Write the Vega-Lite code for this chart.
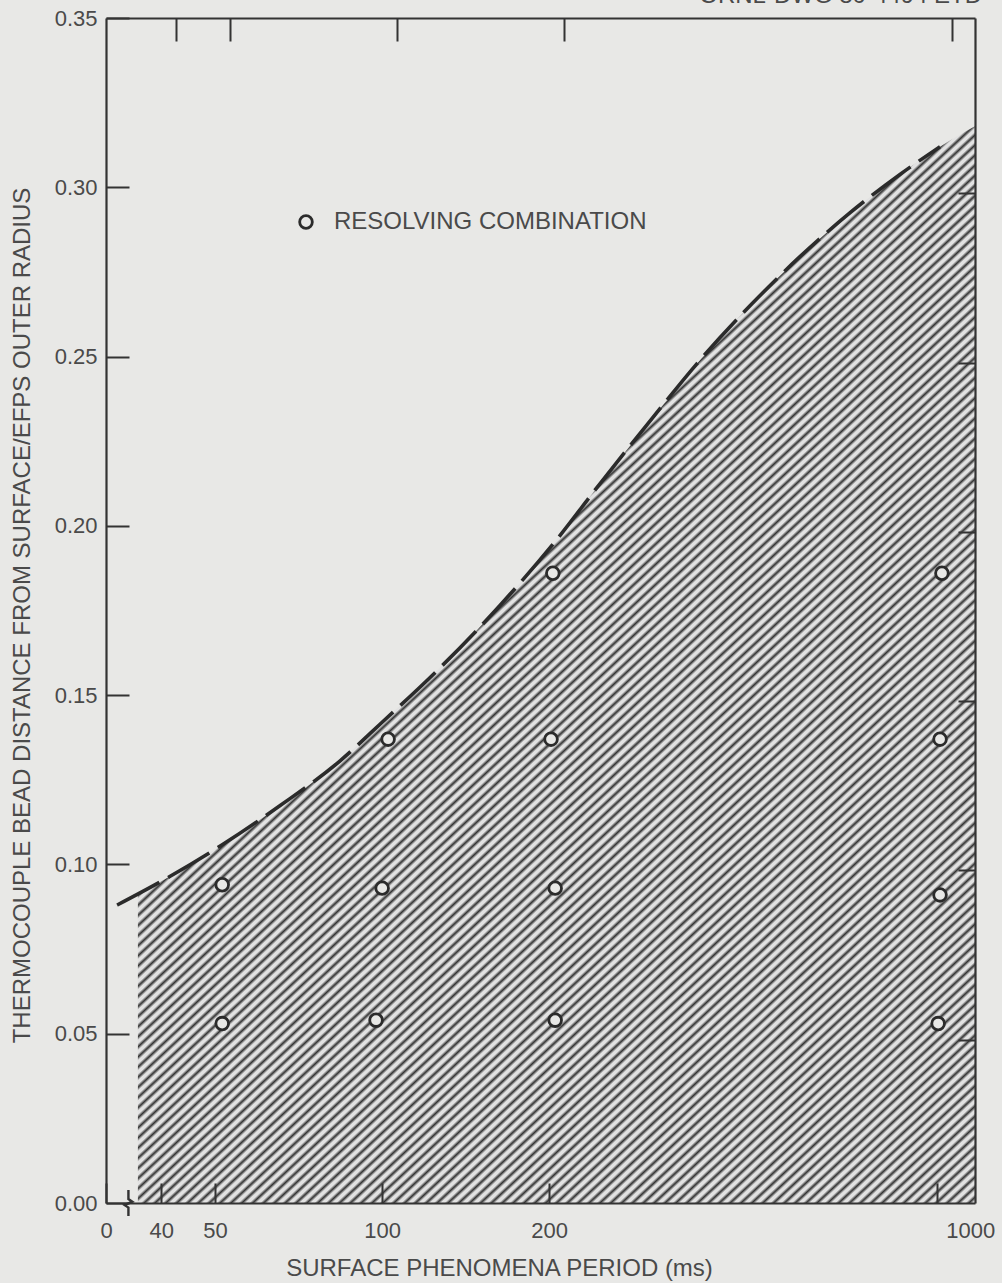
{
  "$schema": "https://vega.github.io/schema/vega-lite/v6.json",
  "width": 869,
  "height": 1185,
  "autosize": {"type": "none"},
  "padding": {"left": 106, "top": 18, "right": 27, "bottom": 80},
  "background": "#e8e8e6",
  "config": {"view": {"stroke": null}, "font": "Liberation Sans"},
  "title": {
    "text": "ORNL-DWG 80-4494 ETD",
    "orient": "top",
    "anchor": "end",
    "frame": "group",
    "offset": 0,
    "dy": 20,
    "baseline": "alphabetic",
    "dx": 7,
    "font": "Liberation Sans",
    "fontSize": 24,
    "fontWeight": "normal",
    "color": "#4a4a4a"
  },
  "datasets": {
    "region": [
      {"period": 36.3, "ratio": 0.0913},
      {"period": 41.5, "ratio": 0.0965},
      {"period": 51.5, "ratio": 0.1058},
      {"period": 65.5, "ratio": 0.1174},
      {"period": 84, "ratio": 0.1306},
      {"period": 100, "ratio": 0.142},
      {"period": 127, "ratio": 0.158},
      {"period": 163, "ratio": 0.1765},
      {"period": 203, "ratio": 0.1945},
      {"period": 247, "ratio": 0.2125},
      {"period": 304, "ratio": 0.231},
      {"period": 374, "ratio": 0.249},
      {"period": 460, "ratio": 0.265},
      {"period": 566, "ratio": 0.2795},
      {"period": 697, "ratio": 0.2925},
      {"period": 857, "ratio": 0.3038},
      {"period": 1012, "ratio": 0.312},
      {"period": 1170, "ratio": 0.318}
    ],
    "boundary": [
      {"period": 33.3, "ratio": 0.088},
      {"period": 41.5, "ratio": 0.0965},
      {"period": 51.5, "ratio": 0.1058},
      {"period": 65.5, "ratio": 0.1174},
      {"period": 84, "ratio": 0.1306},
      {"period": 100, "ratio": 0.142},
      {"period": 127, "ratio": 0.158},
      {"period": 163, "ratio": 0.1765},
      {"period": 203, "ratio": 0.1945},
      {"period": 247, "ratio": 0.2125},
      {"period": 304, "ratio": 0.231},
      {"period": 374, "ratio": 0.249},
      {"period": 460, "ratio": 0.265},
      {"period": 566, "ratio": 0.2795},
      {"period": 697, "ratio": 0.2925},
      {"period": 857, "ratio": 0.3038},
      {"period": 1012, "ratio": 0.312}
    ],
    "combinations": [
      {"period": 51.5, "ratio": 0.094, "kind": "RESOLVING COMBINATION"},
      {"period": 51.5, "ratio": 0.053, "kind": "RESOLVING COMBINATION"},
      {"period": 102.5, "ratio": 0.137, "kind": "RESOLVING COMBINATION"},
      {"period": 100, "ratio": 0.093, "kind": "RESOLVING COMBINATION"},
      {"period": 97.5, "ratio": 0.054, "kind": "RESOLVING COMBINATION"},
      {"period": 203, "ratio": 0.186, "kind": "RESOLVING COMBINATION"},
      {"period": 201.5, "ratio": 0.137, "kind": "RESOLVING COMBINATION"},
      {"period": 205, "ratio": 0.093, "kind": "RESOLVING COMBINATION"},
      {"period": 205, "ratio": 0.054, "kind": "RESOLVING COMBINATION"},
      {"period": 1020, "ratio": 0.186, "kind": "RESOLVING COMBINATION"},
      {"period": 1012, "ratio": 0.137, "kind": "RESOLVING COMBINATION"},
      {"period": 1012, "ratio": 0.091, "kind": "RESOLVING COMBINATION"},
      {"period": 1004, "ratio": 0.053, "kind": "RESOLVING COMBINATION"}
    ],
    "axis_break": [
      {"period": 34.9, "ratio": 0}
    ]
  },
  "layer": [
    {
      "data": {"name": "region"},
      "mark": {
        "type": "area",
        "interpolate": "monotone",
        "color": {
          "gradient": "linear",
          "x1": 0, "y1": 0, "x2": 0.893, "y2": 1.232,
          "stops": [
            {"offset":0,"color":"#333"},{"offset":0.0017,"color":"#e2e2e2"},{"offset":0.0033,"color":"#e2e2e2"},{"offset":0.005,"color":"#333"},{"offset":0.0067,"color":"#e2e2e2"},{"offset":0.0083,"color":"#e2e2e2"},
            {"offset":0.01,"color":"#333"},{"offset":0.0117,"color":"#e2e2e2"},{"offset":0.0133,"color":"#e2e2e2"},{"offset":0.015,"color":"#333"},{"offset":0.0167,"color":"#e2e2e2"},{"offset":0.0183,"color":"#e2e2e2"},
            {"offset":0.02,"color":"#333"},{"offset":0.0217,"color":"#e2e2e2"},{"offset":0.0233,"color":"#e2e2e2"},{"offset":0.025,"color":"#333"},{"offset":0.0267,"color":"#e2e2e2"},{"offset":0.0283,"color":"#e2e2e2"},
            {"offset":0.03,"color":"#333"},{"offset":0.0317,"color":"#e2e2e2"},{"offset":0.0333,"color":"#e2e2e2"},{"offset":0.035,"color":"#333"},{"offset":0.0367,"color":"#e2e2e2"},{"offset":0.0383,"color":"#e2e2e2"},
            {"offset":0.04,"color":"#333"},{"offset":0.0417,"color":"#e2e2e2"},{"offset":0.0433,"color":"#e2e2e2"},{"offset":0.045,"color":"#333"},{"offset":0.0467,"color":"#e2e2e2"},{"offset":0.0483,"color":"#e2e2e2"},
            {"offset":0.05,"color":"#333"},{"offset":0.0517,"color":"#e2e2e2"},{"offset":0.0533,"color":"#e2e2e2"},{"offset":0.055,"color":"#333"},{"offset":0.0567,"color":"#e2e2e2"},{"offset":0.0583,"color":"#e2e2e2"},
            {"offset":0.06,"color":"#333"},{"offset":0.0617,"color":"#e2e2e2"},{"offset":0.0633,"color":"#e2e2e2"},{"offset":0.065,"color":"#333"},{"offset":0.0667,"color":"#e2e2e2"},{"offset":0.0683,"color":"#e2e2e2"},
            {"offset":0.07,"color":"#333"},{"offset":0.0717,"color":"#e2e2e2"},{"offset":0.0733,"color":"#e2e2e2"},{"offset":0.075,"color":"#333"},{"offset":0.0767,"color":"#e2e2e2"},{"offset":0.0783,"color":"#e2e2e2"},
            {"offset":0.08,"color":"#333"},{"offset":0.0817,"color":"#e2e2e2"},{"offset":0.0833,"color":"#e2e2e2"},{"offset":0.085,"color":"#333"},{"offset":0.0867,"color":"#e2e2e2"},{"offset":0.0883,"color":"#e2e2e2"},
            {"offset":0.09,"color":"#333"},{"offset":0.0917,"color":"#e2e2e2"},{"offset":0.0933,"color":"#e2e2e2"},{"offset":0.095,"color":"#333"},{"offset":0.0967,"color":"#e2e2e2"},{"offset":0.0983,"color":"#e2e2e2"},
            {"offset":0.1,"color":"#333"},{"offset":0.1017,"color":"#e2e2e2"},{"offset":0.1033,"color":"#e2e2e2"},{"offset":0.105,"color":"#333"},{"offset":0.1067,"color":"#e2e2e2"},{"offset":0.1083,"color":"#e2e2e2"},
            {"offset":0.11,"color":"#333"},{"offset":0.1117,"color":"#e2e2e2"},{"offset":0.1133,"color":"#e2e2e2"},{"offset":0.115,"color":"#333"},{"offset":0.1167,"color":"#e2e2e2"},{"offset":0.1183,"color":"#e2e2e2"},
            {"offset":0.12,"color":"#333"},{"offset":0.1217,"color":"#e2e2e2"},{"offset":0.1233,"color":"#e2e2e2"},{"offset":0.125,"color":"#333"},{"offset":0.1267,"color":"#e2e2e2"},{"offset":0.1283,"color":"#e2e2e2"},
            {"offset":0.13,"color":"#333"},{"offset":0.1317,"color":"#e2e2e2"},{"offset":0.1333,"color":"#e2e2e2"},{"offset":0.135,"color":"#333"},{"offset":0.1367,"color":"#e2e2e2"},{"offset":0.1383,"color":"#e2e2e2"},
            {"offset":0.14,"color":"#333"},{"offset":0.1417,"color":"#e2e2e2"},{"offset":0.1433,"color":"#e2e2e2"},{"offset":0.145,"color":"#333"},{"offset":0.1467,"color":"#e2e2e2"},{"offset":0.1483,"color":"#e2e2e2"},
            {"offset":0.15,"color":"#333"},{"offset":0.1517,"color":"#e2e2e2"},{"offset":0.1533,"color":"#e2e2e2"},{"offset":0.155,"color":"#333"},{"offset":0.1567,"color":"#e2e2e2"},{"offset":0.1583,"color":"#e2e2e2"},
            {"offset":0.16,"color":"#333"},{"offset":0.1617,"color":"#e2e2e2"},{"offset":0.1633,"color":"#e2e2e2"},{"offset":0.165,"color":"#333"},{"offset":0.1667,"color":"#e2e2e2"},{"offset":0.1683,"color":"#e2e2e2"},
            {"offset":0.17,"color":"#333"},{"offset":0.1717,"color":"#e2e2e2"},{"offset":0.1733,"color":"#e2e2e2"},{"offset":0.175,"color":"#333"},{"offset":0.1767,"color":"#e2e2e2"},{"offset":0.1783,"color":"#e2e2e2"},
            {"offset":0.18,"color":"#333"},{"offset":0.1817,"color":"#e2e2e2"},{"offset":0.1833,"color":"#e2e2e2"},{"offset":0.185,"color":"#333"},{"offset":0.1867,"color":"#e2e2e2"},{"offset":0.1883,"color":"#e2e2e2"},
            {"offset":0.19,"color":"#333"},{"offset":0.1917,"color":"#e2e2e2"},{"offset":0.1933,"color":"#e2e2e2"},{"offset":0.195,"color":"#333"},{"offset":0.1967,"color":"#e2e2e2"},{"offset":0.1983,"color":"#e2e2e2"},
            {"offset":0.2,"color":"#333"},{"offset":0.2017,"color":"#e2e2e2"},{"offset":0.2033,"color":"#e2e2e2"},{"offset":0.205,"color":"#333"},{"offset":0.2067,"color":"#e2e2e2"},{"offset":0.2083,"color":"#e2e2e2"},
            {"offset":0.21,"color":"#333"},{"offset":0.2117,"color":"#e2e2e2"},{"offset":0.2133,"color":"#e2e2e2"},{"offset":0.215,"color":"#333"},{"offset":0.2167,"color":"#e2e2e2"},{"offset":0.2183,"color":"#e2e2e2"},
            {"offset":0.22,"color":"#333"},{"offset":0.2217,"color":"#e2e2e2"},{"offset":0.2233,"color":"#e2e2e2"},{"offset":0.225,"color":"#333"},{"offset":0.2267,"color":"#e2e2e2"},{"offset":0.2283,"color":"#e2e2e2"},
            {"offset":0.23,"color":"#333"},{"offset":0.2317,"color":"#e2e2e2"},{"offset":0.2333,"color":"#e2e2e2"},{"offset":0.235,"color":"#333"},{"offset":0.2367,"color":"#e2e2e2"},{"offset":0.2383,"color":"#e2e2e2"},
            {"offset":0.24,"color":"#333"},{"offset":0.2417,"color":"#e2e2e2"},{"offset":0.2433,"color":"#e2e2e2"},{"offset":0.245,"color":"#333"},{"offset":0.2467,"color":"#e2e2e2"},{"offset":0.2483,"color":"#e2e2e2"},
            {"offset":0.25,"color":"#333"},{"offset":0.2517,"color":"#e2e2e2"},{"offset":0.2533,"color":"#e2e2e2"},{"offset":0.255,"color":"#333"},{"offset":0.2567,"color":"#e2e2e2"},{"offset":0.2583,"color":"#e2e2e2"},
            {"offset":0.26,"color":"#333"},{"offset":0.2617,"color":"#e2e2e2"},{"offset":0.2633,"color":"#e2e2e2"},{"offset":0.265,"color":"#333"},{"offset":0.2667,"color":"#e2e2e2"},{"offset":0.2683,"color":"#e2e2e2"},
            {"offset":0.27,"color":"#333"},{"offset":0.2717,"color":"#e2e2e2"},{"offset":0.2733,"color":"#e2e2e2"},{"offset":0.275,"color":"#333"},{"offset":0.2767,"color":"#e2e2e2"},{"offset":0.2783,"color":"#e2e2e2"},
            {"offset":0.28,"color":"#333"},{"offset":0.2817,"color":"#e2e2e2"},{"offset":0.2833,"color":"#e2e2e2"},{"offset":0.285,"color":"#333"},{"offset":0.2867,"color":"#e2e2e2"},{"offset":0.2883,"color":"#e2e2e2"},
            {"offset":0.29,"color":"#333"},{"offset":0.2917,"color":"#e2e2e2"},{"offset":0.2933,"color":"#e2e2e2"},{"offset":0.295,"color":"#333"},{"offset":0.2967,"color":"#e2e2e2"},{"offset":0.2983,"color":"#e2e2e2"},
            {"offset":0.3,"color":"#333"},{"offset":0.3017,"color":"#e2e2e2"},{"offset":0.3033,"color":"#e2e2e2"},{"offset":0.305,"color":"#333"},{"offset":0.3067,"color":"#e2e2e2"},{"offset":0.3083,"color":"#e2e2e2"},
            {"offset":0.31,"color":"#333"},{"offset":0.3117,"color":"#e2e2e2"},{"offset":0.3133,"color":"#e2e2e2"},{"offset":0.315,"color":"#333"},{"offset":0.3167,"color":"#e2e2e2"},{"offset":0.3183,"color":"#e2e2e2"},
            {"offset":0.32,"color":"#333"},{"offset":0.3217,"color":"#e2e2e2"},{"offset":0.3233,"color":"#e2e2e2"},{"offset":0.325,"color":"#333"},{"offset":0.3267,"color":"#e2e2e2"},{"offset":0.3283,"color":"#e2e2e2"},
            {"offset":0.33,"color":"#333"},{"offset":0.3317,"color":"#e2e2e2"},{"offset":0.3333,"color":"#e2e2e2"},{"offset":0.335,"color":"#333"},{"offset":0.3367,"color":"#e2e2e2"},{"offset":0.3383,"color":"#e2e2e2"},
            {"offset":0.34,"color":"#333"},{"offset":0.3417,"color":"#e2e2e2"},{"offset":0.3433,"color":"#e2e2e2"},{"offset":0.345,"color":"#333"},{"offset":0.3467,"color":"#e2e2e2"},{"offset":0.3483,"color":"#e2e2e2"},
            {"offset":0.35,"color":"#333"},{"offset":0.3517,"color":"#e2e2e2"},{"offset":0.3533,"color":"#e2e2e2"},{"offset":0.355,"color":"#333"},{"offset":0.3567,"color":"#e2e2e2"},{"offset":0.3583,"color":"#e2e2e2"},
            {"offset":0.36,"color":"#333"},{"offset":0.3617,"color":"#e2e2e2"},{"offset":0.3633,"color":"#e2e2e2"},{"offset":0.365,"color":"#333"},{"offset":0.3667,"color":"#e2e2e2"},{"offset":0.3683,"color":"#e2e2e2"},
            {"offset":0.37,"color":"#333"},{"offset":0.3717,"color":"#e2e2e2"},{"offset":0.3733,"color":"#e2e2e2"},{"offset":0.375,"color":"#333"},{"offset":0.3767,"color":"#e2e2e2"},{"offset":0.3783,"color":"#e2e2e2"},
            {"offset":0.38,"color":"#333"},{"offset":0.3817,"color":"#e2e2e2"},{"offset":0.3833,"color":"#e2e2e2"},{"offset":0.385,"color":"#333"},{"offset":0.3867,"color":"#e2e2e2"},{"offset":0.3883,"color":"#e2e2e2"},
            {"offset":0.39,"color":"#333"},{"offset":0.3917,"color":"#e2e2e2"},{"offset":0.3933,"color":"#e2e2e2"},{"offset":0.395,"color":"#333"},{"offset":0.3967,"color":"#e2e2e2"},{"offset":0.3983,"color":"#e2e2e2"},
            {"offset":0.4,"color":"#333"},{"offset":0.4017,"color":"#e2e2e2"},{"offset":0.4033,"color":"#e2e2e2"},{"offset":0.405,"color":"#333"},{"offset":0.4067,"color":"#e2e2e2"},{"offset":0.4083,"color":"#e2e2e2"},
            {"offset":0.41,"color":"#333"},{"offset":0.4117,"color":"#e2e2e2"},{"offset":0.4133,"color":"#e2e2e2"},{"offset":0.415,"color":"#333"},{"offset":0.4167,"color":"#e2e2e2"},{"offset":0.4183,"color":"#e2e2e2"},
            {"offset":0.42,"color":"#333"},{"offset":0.4217,"color":"#e2e2e2"},{"offset":0.4233,"color":"#e2e2e2"},{"offset":0.425,"color":"#333"},{"offset":0.4267,"color":"#e2e2e2"},{"offset":0.4283,"color":"#e2e2e2"},
            {"offset":0.43,"color":"#333"},{"offset":0.4317,"color":"#e2e2e2"},{"offset":0.4333,"color":"#e2e2e2"},{"offset":0.435,"color":"#333"},{"offset":0.4367,"color":"#e2e2e2"},{"offset":0.4383,"color":"#e2e2e2"},
            {"offset":0.44,"color":"#333"},{"offset":0.4417,"color":"#e2e2e2"},{"offset":0.4433,"color":"#e2e2e2"},{"offset":0.445,"color":"#333"},{"offset":0.4467,"color":"#e2e2e2"},{"offset":0.4483,"color":"#e2e2e2"},
            {"offset":0.45,"color":"#333"},{"offset":0.4517,"color":"#e2e2e2"},{"offset":0.4533,"color":"#e2e2e2"},{"offset":0.455,"color":"#333"},{"offset":0.4567,"color":"#e2e2e2"},{"offset":0.4583,"color":"#e2e2e2"},
            {"offset":0.46,"color":"#333"},{"offset":0.4617,"color":"#e2e2e2"},{"offset":0.4633,"color":"#e2e2e2"},{"offset":0.465,"color":"#333"},{"offset":0.4667,"color":"#e2e2e2"},{"offset":0.4683,"color":"#e2e2e2"},
            {"offset":0.47,"color":"#333"},{"offset":0.4717,"color":"#e2e2e2"},{"offset":0.4733,"color":"#e2e2e2"},{"offset":0.475,"color":"#333"},{"offset":0.4767,"color":"#e2e2e2"},{"offset":0.4783,"color":"#e2e2e2"},
            {"offset":0.48,"color":"#333"},{"offset":0.4817,"color":"#e2e2e2"},{"offset":0.4833,"color":"#e2e2e2"},{"offset":0.485,"color":"#333"},{"offset":0.4867,"color":"#e2e2e2"},{"offset":0.4883,"color":"#e2e2e2"},
            {"offset":0.49,"color":"#333"},{"offset":0.4917,"color":"#e2e2e2"},{"offset":0.4933,"color":"#e2e2e2"},{"offset":0.495,"color":"#333"},{"offset":0.4967,"color":"#e2e2e2"},{"offset":0.4983,"color":"#e2e2e2"},
            {"offset":0.5,"color":"#333"},{"offset":0.5017,"color":"#e2e2e2"},{"offset":0.5033,"color":"#e2e2e2"},{"offset":0.505,"color":"#333"},{"offset":0.5067,"color":"#e2e2e2"},{"offset":0.5083,"color":"#e2e2e2"},
            {"offset":0.51,"color":"#333"},{"offset":0.5117,"color":"#e2e2e2"},{"offset":0.5133,"color":"#e2e2e2"},{"offset":0.515,"color":"#333"},{"offset":0.5167,"color":"#e2e2e2"},{"offset":0.5183,"color":"#e2e2e2"},
            {"offset":0.52,"color":"#333"},{"offset":0.5217,"color":"#e2e2e2"},{"offset":0.5233,"color":"#e2e2e2"},{"offset":0.525,"color":"#333"},{"offset":0.5267,"color":"#e2e2e2"},{"offset":0.5283,"color":"#e2e2e2"},
            {"offset":0.53,"color":"#333"},{"offset":0.5317,"color":"#e2e2e2"},{"offset":0.5333,"color":"#e2e2e2"},{"offset":0.535,"color":"#333"},{"offset":0.5367,"color":"#e2e2e2"},{"offset":0.5383,"color":"#e2e2e2"},
            {"offset":0.54,"color":"#333"},{"offset":0.5417,"color":"#e2e2e2"},{"offset":0.5433,"color":"#e2e2e2"},{"offset":0.545,"color":"#333"},{"offset":0.5467,"color":"#e2e2e2"},{"offset":0.5483,"color":"#e2e2e2"},
            {"offset":0.55,"color":"#333"},{"offset":0.5517,"color":"#e2e2e2"},{"offset":0.5533,"color":"#e2e2e2"},{"offset":0.555,"color":"#333"},{"offset":0.5567,"color":"#e2e2e2"},{"offset":0.5583,"color":"#e2e2e2"},
            {"offset":0.56,"color":"#333"},{"offset":0.5617,"color":"#e2e2e2"},{"offset":0.5633,"color":"#e2e2e2"},{"offset":0.565,"color":"#333"},{"offset":0.5667,"color":"#e2e2e2"},{"offset":0.5683,"color":"#e2e2e2"},
            {"offset":0.57,"color":"#333"},{"offset":0.5717,"color":"#e2e2e2"},{"offset":0.5733,"color":"#e2e2e2"},{"offset":0.575,"color":"#333"},{"offset":0.5767,"color":"#e2e2e2"},{"offset":0.5783,"color":"#e2e2e2"},
            {"offset":0.58,"color":"#333"},{"offset":0.5817,"color":"#e2e2e2"},{"offset":0.5833,"color":"#e2e2e2"},{"offset":0.585,"color":"#333"},{"offset":0.5867,"color":"#e2e2e2"},{"offset":0.5883,"color":"#e2e2e2"},
            {"offset":0.59,"color":"#333"},{"offset":0.5917,"color":"#e2e2e2"},{"offset":0.5933,"color":"#e2e2e2"},{"offset":0.595,"color":"#333"},{"offset":0.5967,"color":"#e2e2e2"},{"offset":0.5983,"color":"#e2e2e2"},
            {"offset":0.6,"color":"#333"},{"offset":0.6017,"color":"#e2e2e2"},{"offset":0.6033,"color":"#e2e2e2"},{"offset":0.605,"color":"#333"},{"offset":0.6067,"color":"#e2e2e2"},{"offset":0.6083,"color":"#e2e2e2"},
            {"offset":0.61,"color":"#333"},{"offset":0.6117,"color":"#e2e2e2"},{"offset":0.6133,"color":"#e2e2e2"},{"offset":0.615,"color":"#333"},{"offset":0.6167,"color":"#e2e2e2"},{"offset":0.6183,"color":"#e2e2e2"},
            {"offset":0.62,"color":"#333"},{"offset":0.6217,"color":"#e2e2e2"},{"offset":0.6233,"color":"#e2e2e2"},{"offset":0.625,"color":"#333"},{"offset":0.6267,"color":"#e2e2e2"},{"offset":0.6283,"color":"#e2e2e2"},
            {"offset":0.63,"color":"#333"},{"offset":0.6317,"color":"#e2e2e2"},{"offset":0.6333,"color":"#e2e2e2"},{"offset":0.635,"color":"#333"},{"offset":0.6367,"color":"#e2e2e2"},{"offset":0.6383,"color":"#e2e2e2"},
            {"offset":0.64,"color":"#333"},{"offset":0.6417,"color":"#e2e2e2"},{"offset":0.6433,"color":"#e2e2e2"},{"offset":0.645,"color":"#333"},{"offset":0.6467,"color":"#e2e2e2"},{"offset":0.6483,"color":"#e2e2e2"},
            {"offset":0.65,"color":"#333"},{"offset":0.6517,"color":"#e2e2e2"},{"offset":0.6533,"color":"#e2e2e2"},{"offset":0.655,"color":"#333"},{"offset":0.6567,"color":"#e2e2e2"},{"offset":0.6583,"color":"#e2e2e2"},
            {"offset":0.66,"color":"#333"},{"offset":0.6617,"color":"#e2e2e2"},{"offset":0.6633,"color":"#e2e2e2"},{"offset":0.665,"color":"#333"},{"offset":0.6667,"color":"#e2e2e2"},{"offset":0.6683,"color":"#e2e2e2"},
            {"offset":0.67,"color":"#333"},{"offset":0.6717,"color":"#e2e2e2"},{"offset":0.6733,"color":"#e2e2e2"},{"offset":0.675,"color":"#333"},{"offset":0.6767,"color":"#e2e2e2"},{"offset":0.6783,"color":"#e2e2e2"},
            {"offset":0.68,"color":"#333"},{"offset":0.6817,"color":"#e2e2e2"},{"offset":0.6833,"color":"#e2e2e2"},{"offset":0.685,"color":"#333"},{"offset":0.6867,"color":"#e2e2e2"},{"offset":0.6883,"color":"#e2e2e2"},
            {"offset":0.69,"color":"#333"},{"offset":0.6917,"color":"#e2e2e2"},{"offset":0.6933,"color":"#e2e2e2"},{"offset":0.695,"color":"#333"},{"offset":0.6967,"color":"#e2e2e2"},{"offset":0.6983,"color":"#e2e2e2"},
            {"offset":0.7,"color":"#333"},{"offset":0.7017,"color":"#e2e2e2"},{"offset":0.7033,"color":"#e2e2e2"},{"offset":0.705,"color":"#333"},{"offset":0.7067,"color":"#e2e2e2"},{"offset":0.7083,"color":"#e2e2e2"},
            {"offset":0.71,"color":"#333"},{"offset":0.7117,"color":"#e2e2e2"},{"offset":0.7133,"color":"#e2e2e2"},{"offset":0.715,"color":"#333"},{"offset":0.7167,"color":"#e2e2e2"},{"offset":0.7183,"color":"#e2e2e2"},
            {"offset":0.72,"color":"#333"},{"offset":0.7217,"color":"#e2e2e2"},{"offset":0.7233,"color":"#e2e2e2"},{"offset":0.725,"color":"#333"},{"offset":0.7267,"color":"#e2e2e2"},{"offset":0.7283,"color":"#e2e2e2"},
            {"offset":0.73,"color":"#333"},{"offset":0.7317,"color":"#e2e2e2"},{"offset":0.7333,"color":"#e2e2e2"},{"offset":0.735,"color":"#333"},{"offset":0.7367,"color":"#e2e2e2"},{"offset":0.7383,"color":"#e2e2e2"},
            {"offset":0.74,"color":"#333"},{"offset":0.7417,"color":"#e2e2e2"},{"offset":0.7433,"color":"#e2e2e2"},{"offset":0.745,"color":"#333"},{"offset":0.7467,"color":"#e2e2e2"},{"offset":0.7483,"color":"#e2e2e2"},
            {"offset":0.75,"color":"#333"},{"offset":0.7517,"color":"#e2e2e2"},{"offset":0.7533,"color":"#e2e2e2"},{"offset":0.755,"color":"#333"},{"offset":0.7567,"color":"#e2e2e2"},{"offset":0.7583,"color":"#e2e2e2"},
            {"offset":0.76,"color":"#333"},{"offset":0.7617,"color":"#e2e2e2"},{"offset":0.7633,"color":"#e2e2e2"},{"offset":0.765,"color":"#333"},{"offset":0.7667,"color":"#e2e2e2"},{"offset":0.7683,"color":"#e2e2e2"},
            {"offset":0.77,"color":"#333"},{"offset":0.7717,"color":"#e2e2e2"},{"offset":0.7733,"color":"#e2e2e2"},{"offset":0.775,"color":"#333"},{"offset":0.7767,"color":"#e2e2e2"},{"offset":0.7783,"color":"#e2e2e2"},
            {"offset":0.78,"color":"#333"},{"offset":0.7817,"color":"#e2e2e2"},{"offset":0.7833,"color":"#e2e2e2"},{"offset":0.785,"color":"#333"},{"offset":0.7867,"color":"#e2e2e2"},{"offset":0.7883,"color":"#e2e2e2"},
            {"offset":0.79,"color":"#333"},{"offset":0.7917,"color":"#e2e2e2"},{"offset":0.7933,"color":"#e2e2e2"},{"offset":0.795,"color":"#333"},{"offset":0.7967,"color":"#e2e2e2"},{"offset":0.7983,"color":"#e2e2e2"},
            {"offset":0.8,"color":"#333"},{"offset":0.8017,"color":"#e2e2e2"},{"offset":0.8033,"color":"#e2e2e2"},{"offset":0.805,"color":"#333"},{"offset":0.8067,"color":"#e2e2e2"},{"offset":0.8083,"color":"#e2e2e2"},
            {"offset":0.81,"color":"#333"},{"offset":0.8117,"color":"#e2e2e2"},{"offset":0.8133,"color":"#e2e2e2"},{"offset":0.815,"color":"#333"},{"offset":0.8167,"color":"#e2e2e2"},{"offset":0.8183,"color":"#e2e2e2"},
            {"offset":0.82,"color":"#333"},{"offset":0.8217,"color":"#e2e2e2"},{"offset":0.8233,"color":"#e2e2e2"},{"offset":0.825,"color":"#333"},{"offset":0.8267,"color":"#e2e2e2"},{"offset":0.8283,"color":"#e2e2e2"},
            {"offset":0.83,"color":"#333"},{"offset":0.8317,"color":"#e2e2e2"},{"offset":0.8333,"color":"#e2e2e2"},{"offset":0.835,"color":"#333"},{"offset":0.8367,"color":"#e2e2e2"},{"offset":0.8383,"color":"#e2e2e2"},
            {"offset":0.84,"color":"#333"},{"offset":0.8417,"color":"#e2e2e2"},{"offset":0.8433,"color":"#e2e2e2"},{"offset":0.845,"color":"#333"},{"offset":0.8467,"color":"#e2e2e2"},{"offset":0.8483,"color":"#e2e2e2"},
            {"offset":0.85,"color":"#333"},{"offset":0.8517,"color":"#e2e2e2"},{"offset":0.8533,"color":"#e2e2e2"},{"offset":0.855,"color":"#333"},{"offset":0.8567,"color":"#e2e2e2"},{"offset":0.8583,"color":"#e2e2e2"},
            {"offset":0.86,"color":"#333"},{"offset":0.8617,"color":"#e2e2e2"},{"offset":0.8633,"color":"#e2e2e2"},{"offset":0.865,"color":"#333"},{"offset":0.8667,"color":"#e2e2e2"},{"offset":0.8683,"color":"#e2e2e2"},
            {"offset":0.87,"color":"#333"},{"offset":0.8717,"color":"#e2e2e2"},{"offset":0.8733,"color":"#e2e2e2"},{"offset":0.875,"color":"#333"},{"offset":0.8767,"color":"#e2e2e2"},{"offset":0.8783,"color":"#e2e2e2"},
            {"offset":0.88,"color":"#333"},{"offset":0.8817,"color":"#e2e2e2"},{"offset":0.8833,"color":"#e2e2e2"},{"offset":0.885,"color":"#333"},{"offset":0.8867,"color":"#e2e2e2"},{"offset":0.8883,"color":"#e2e2e2"},
            {"offset":0.89,"color":"#333"},{"offset":0.8917,"color":"#e2e2e2"},{"offset":0.8933,"color":"#e2e2e2"},{"offset":0.895,"color":"#333"},{"offset":0.8967,"color":"#e2e2e2"},{"offset":0.8983,"color":"#e2e2e2"},
            {"offset":0.9,"color":"#333"},{"offset":0.9017,"color":"#e2e2e2"},{"offset":0.9033,"color":"#e2e2e2"},{"offset":0.905,"color":"#333"},{"offset":0.9067,"color":"#e2e2e2"},{"offset":0.9083,"color":"#e2e2e2"},
            {"offset":0.91,"color":"#333"},{"offset":0.9117,"color":"#e2e2e2"},{"offset":0.9133,"color":"#e2e2e2"},{"offset":0.915,"color":"#333"},{"offset":0.9167,"color":"#e2e2e2"},{"offset":0.9183,"color":"#e2e2e2"},
            {"offset":0.92,"color":"#333"},{"offset":0.9217,"color":"#e2e2e2"},{"offset":0.9233,"color":"#e2e2e2"},{"offset":0.925,"color":"#333"},{"offset":0.9267,"color":"#e2e2e2"},{"offset":0.9283,"color":"#e2e2e2"},
            {"offset":0.93,"color":"#333"}
          ]
        }
      },
      "encoding": {
        "x": {
          "field": "period",
          "type": "quantitative",
          "scale": {"type": "log", "domain": [31.8, 1170], "nice": false},
          "axis": {
            "orient": "bottom",
            "values": [31.8, 40, 50, 100, 200, 1000],
            "labelExpr": "datum.value < 35 ? '0' : format(datum.value, 'd')",
            "labelFlush": false,
            "labelOverlap": false,
            "labelFont": "Liberation Sans",
            "labelFontSize": 22,
            "labelColor": "#4a4a4a",
            "labelPadding": 37,
            "labelOffset": {"condition": {"test": "datum.value >= 1000", "value": 33}, "value": 0},
            "tickSize": -20,
            "tickWidth": 2,
            "tickColor": "#333",
            "domainColor": "#333",
            "domainWidth": 2.2,
            "grid": false,
            "zindex": 1,
            "title": "SURFACE PHENOMENA PERIOD (ms)",
            "titleFont": "Liberation Sans",
            "titleFontSize": 24,
            "titleFontWeight": "normal",
            "titleColor": "#4a4a4a",
            "titleX": 393,
            "titleY": 72,
            "titleBaseline": "alphabetic",
            "titleAlign": "center"
          }
        },
        "y": {
          "field": "ratio",
          "type": "quantitative",
          "scale": {"domain": [0, 0.35], "nice": false, "zero": false},
          "axis": {
            "orient": "left",
            "values": [0, 0.05, 0.1, 0.15, 0.2, 0.25, 0.3, 0.35],
            "format": ".2f",
            "labelFlush": false,
            "labelOverlap": false,
            "labelFont": "Liberation Sans",
            "labelFontSize": 22,
            "labelColor": "#4a4a4a",
            "labelPadding": 32,
            "tickSize": -23,
            "tickWidth": 2,
            "tickColor": "#333",
            "domainColor": "#333",
            "domainWidth": 2.2,
            "grid": false,
            "zindex": 1,
            "title": "THERMOCOUPLE BEAD DISTANCE FROM SURFACE/EFPS OUTER RADIUS",
            "titleFont": "Liberation Sans",
            "titleFontSize": 24,
            "titleFontWeight": "normal",
            "titleColor": "#4a4a4a",
            "titleAngle": 270,
            "titleX": -77,
            "titleY": 597,
            "titleBaseline": "alphabetic",
            "titleAlign": "center"
          }
        }
      }
    },
    {
      "data": {"name": "boundary"},
      "mark": {
        "type": "line",
        "interpolate": "monotone",
        "strokeDash": [48, 10],
        "strokeWidth": 3.6,
        "color": "#2b2b2b"
      },
      "encoding": {
        "x": {
          "field": "period",
          "type": "quantitative",
          "axis": {
            "orient": "top",
            "values": [40, 50, 100, 200, 1000],
            "labels": false,
            "tickSize": -23,
            "tickOffset": 15,
            "tickWidth": 2,
            "tickColor": "#333",
            "domainColor": "#333",
            "domainWidth": 2.2,
            "grid": false,
            "zindex": 1,
            "title": null
          }
        },
        "y": {
          "field": "ratio",
          "type": "quantitative",
          "axis": {
            "orient": "right",
            "values": [0.05, 0.1, 0.15, 0.2, 0.25, 0.3],
            "labels": false,
            "tickSize": -17,
            "tickOffset": 6,
            "tickWidth": 2,
            "tickColor": "#333",
            "domainColor": "#333",
            "domainWidth": 2.2,
            "grid": false,
            "zindex": 1,
            "title": null
          }
        }
      }
    },
    {
      "data": {"name": "combinations"},
      "mark": {
        "type": "point",
        "shape": "circle",
        "filled": false,
        "fill": "#e8e8e6",
        "strokeWidth": 2.8,
        "size": 160,
        "opacity": 1
      },
      "encoding": {
        "x": {"field": "period", "type": "quantitative", "axis": null},
        "y": {"field": "ratio", "type": "quantitative", "axis": null},
        "color": {
          "field": "kind",
          "type": "nominal",
          "scale": {"range": ["#2b2b2b"]},
          "legend": {
            "orient": "none",
            "legendX": 188,
            "legendY": 192,
            "title": null,
            "padding": 0,
            "symbolType": "circle",
            "symbolSize": 160,
            "symbolStrokeWidth": 2.8,
            "symbolFillColor": "#e8e8e6",
            "symbolOpacity": 1,
            "labelFont": "Liberation Sans",
            "labelFontSize": 24,
            "labelColor": "#4a4a4a",
            "labelOffset": 16,
            "labelLimit": 0
          }
        }
      }
    },
    {
      "data": {"name": "axis_break"},
      "mark": {
        "type": "point",
        "shape": "M0,-1L0,-0.3L0.3,-0.1L-0.3,0.15L0,0.35L0,1",
        "filled": false,
        "stroke": "#333",
        "strokeWidth": 2.4,
        "size": 676,
        "opacity": 1,
        "clip": false
      },
      "encoding": {
        "x": {"field": "period", "type": "quantitative", "axis": null},
        "y": {"field": "ratio", "type": "quantitative", "axis": null}
      }
    }
  ],
  "resolve": {"axis": {"x": "independent", "y": "independent"}}
}
